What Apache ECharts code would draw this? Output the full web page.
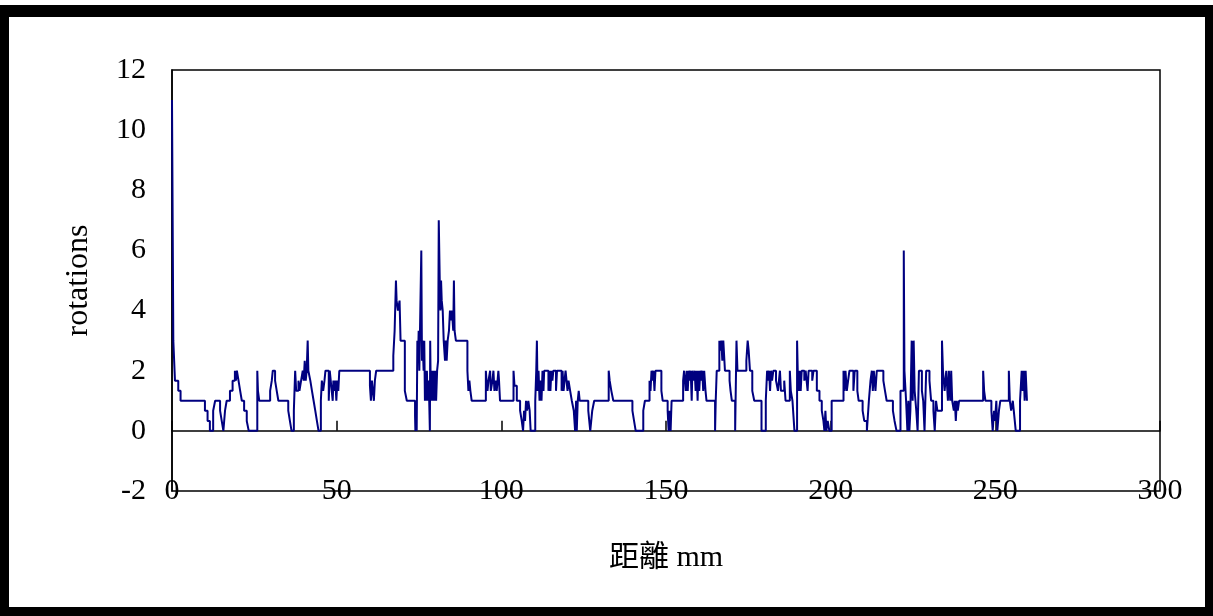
<!DOCTYPE html>
<html>
<head>
<meta charset="utf-8">
<title>rotations</title>
<script src="https://cdn.jsdelivr.net/npm/echarts@6.0.0/dist/echarts.min.js"></script>
<style>
  html, body { margin: 0; padding: 0; background: #fff; }
  #chart { width: 1213px; height: 616px; }
</style>
</head>
<body>
<div id="chart"></div>
<script>
// change points: distance (mm) -> rotations, held until the next point
const mm0_60 = [0,0.4,0.9,1.9,2.6,10.0,10.8,11.5,12.5,13.1,
  14.6,15.1,15.6,16.1,16.6,17.6,18.4,19.1,19.4,19.7,
  20.2,20.7,21.2,21.9,22.7,23.3,25.9,26.1,26.5,29.8,
  30.3,30.6,31.3,31.8,32.3,35.3,35.8,36.3,37.0,37.4,
  37.7,38.4,38.7,39.2,39.7,40.0,40.3,40.6,40.9,41.2,
  41.4,42.0,42.5,43.0,43.5,44.0,44.5,45.2,45.5,45.9,
  46.3,46.6,47.6,47.9,48.5,48.8,49.0,49.3,49.6,49.9,
  50.2,50.5,50.8]
const rot0_60 = [11,3,1.67,1.33,1,0.67,0.33,0,0.67,1,
  0.67,0.33,0,0.67,1,1.33,1.67,2,1.67,2,
  1.67,1.33,1,0.67,0.33,0,2,1.33,1,1.33,
  1.67,2,1.67,1.33,1,0.67,0.33,0,0.67,2,
  1.33,1.67,1.33,1.67,2,1.67,2.33,1.67,2,3,
  2,1.67,1.33,1,0.67,0.33,0,1,1.67,1.33,
  1.67,2,1,2,1.33,1,1.67,1.33,1.67,1,
  1.67,1.33,2]

const mm60_100 = [60.1,60.4,60.7,61.0,61.3,61.6,62.0,67.2,67.6,68.0,
  68.2,68.6,69.1,69.4,70.7,71.3,73.8,73.9,74.1,74.3,
  74.5,74.7,74.9,75.1,75.4,75.7,75.9,76.1,76.4,76.6,
  76.8,77.0,77.2,77.4,77.6,77.8,78.1,78.3,78.4,78.6,
  78.8,79.0,79.3,79.6,79.9,80.2,80.5,80.8,81.0,81.3,
  81.5,81.7,81.9,82.2,82.5,82.9,83.1,83.4,83.7,84.1,
  84.4,84.7,85.0,85.4,85.6,85.8,86.2,89.7,90.0,90.3,
  90.6,91.0,95.3,95.5,95.8,96.1,96.6,96.8,97.3,97.6,
  97.9,98.3,98.6,99.1,99.3,99.6]
const rot60_100 = [1.5,1,1.67,1.33,1,1.67,2,2.5,3.33,5,
  4.33,4,4.33,3,1.33,1,0.5,0,1,0,
  3,2.33,3.33,2,4,6,2.33,3,2,3,
  1,2,1,2,1,1.67,1,0,3,1,
  2,1,2,1,2,1,2,2.33,7,5,
  4,5,4.33,4,3,2.33,3,2.33,3,3.33,
  4,3.67,4,3.33,5,3.33,3,2,1.33,1.67,
  1.33,1,2,1.67,1.33,1.67,2,1.33,1.67,2,
  1.33,1.67,1.33,2,1.67,1]

const mm100_155 = [103.7,104.0,104.7,105.7,106.2,106.6,106.9,107.2,107.5,107.8,
  108.2,108.6,108.9,110.3,110.6,110.8,111.0,111.3,111.6,111.9,
  112.2,112.5,112.8,113.0,114.3,114.6,114.9,115.2,115.5,115.8,
  116.6,116.9,118.3,118.6,118.9,119.2,119.5,120.1,120.4,120.9,
  121.4,122.0,122.4,122.7,122.9,123.2,123.5,123.8,126.4,126.7,
  127.0,127.6,128.2,132.6,132.9,133.4,134.0,139.8,140.3,140.8,
  143.1,143.6,145.0,145.3,145.6,145.9,146.2,146.5,146.8,148.6,
  149.0,150.5,150.8,151.1,151.4,151.7]
const rot100_155 = [2,1.5,1,0.67,0.33,0,0.67,0.33,1,0.67,
  1,0.67,0,1,2,3,1.33,2,1,1.67,
  1,2,1.33,2,1.33,2,1.33,2,1.67,2,
  1.33,2,1.33,2,1.33,1.67,2,1.33,1.67,1.33,
  1,0.67,0,1,0,1,1.33,1,0.67,0.33,
  0,0.67,1,2,1.67,1.33,1,0.67,0.33,0,
  0.67,1,1.67,1.33,2,1.67,2,1.33,2,1.33,
  1,0.67,0,0.67,0,1]

const mm155_201 = [155.2,155.5,156.0,156.3,156.6,156.9,157.2,157.5,157.8,158.0,
  158.4,158.7,159.0,159.3,159.6,159.8,160.1,160.4,160.7,161.0,
  161.3,161.6,162.0,162.3,164.9,165.1,165.4,166.2,166.5,166.8,
  167.1,167.4,167.9,169.3,169.6,170.0,171.0,171.4,171.7,174.4,
  174.8,175.1,175.5,176.2,176.8,179.0,180.3,180.7,181.0,181.3,
  181.6,181.9,182.2,182.6,183.4,184.0,184.3,184.6,184.9,185.9,
  186.3,187.6,187.9,188.4,189.0,189.8,190.0,190.3,190.6,190.9,
  191.2,192.0,192.4,193.0,193.3,194.4,194.8,195.8,196.6,197.3,
  197.8,198.1,198.4,198.7,199.1,199.6,200.3]
const rot155_201 = [1.67,2,1.33,2,1.33,2,1.67,2,1,2,
  1.67,2,1.33,2,1,2,1.33,2,1.67,2,
  1.33,2,1.33,1,0,1,2,3,2.67,3,
  2.33,3,2,1.67,1.33,1,0,3,2,2.33,
  3,2.67,2,1.33,1,0,1,2,1.67,2,
  1.33,2,1.67,2,1.67,1.33,1.67,2,1.33,1.67,
  1,2,1.33,1,0,3,2,1.33,2,1.33,
  2,1.67,2,1.33,2,1.67,2,1.33,1,0.67,
  0.33,0,0.67,0,0.33,0,1]

const mm201_260 = [203.9,204.2,204.5,204.9,205.3,205.7,206.9,207.3,208.1,208.5,
  209.7,210.2,211.0,211.6,212.1,212.5,212.8,213.1,213.6,214.0,
  216.0,216.5,217.0,218.9,219.4,220.0,221.2,222.2,222.4,222.9,
  223.3,223.6,223.9,224.2,224.6,224.9,225.2,225.5,226.0,226.4,
  226.8,227.7,228.1,228.5,229.0,230.0,230.5,231.2,231.6,232.0,
  232.4,233.8,234.1,234.6,235.1,235.6,235.9,236.3,236.6,236.9,
  237.4,237.7,238.0,238.3,238.6,239.0,246.3,246.6,247.0,248.8,
  249.2,249.6,249.9,250.3,250.6,251.1,251.5,254.1,254.4,254.8,
  255.3,255.6,256.2,257.5,258.0,258.3,258.6,258.9,259.2,259.6]
const rot201_260 = [2,1.33,2,1.33,1.67,2,1.33,2,1.33,1,
  0.67,0.33,0,1,1.67,2,1.33,2,1.33,2,
  1.67,1.33,1,0.67,0.33,0,1.33,6,2,1,
  0,1,0,0.67,3,1,3,1.33,0.67,0,
  2,1.33,1,0,2,1.67,1,0.67,0,1,
  0.67,3,2,1.33,2,1,2,1,2,1,
  0.67,1,0.33,1,0.67,1,2,1.33,1,0.67,
  0,0.67,0.33,1,0,0.67,1,2,1,0.67,
  1,0.67,0,1,2,1.33,2,1,2,1]

const xTicks = {min: 0, max: 300, interval: 50}
const yTicks = {min: -2, max: 12, interval: 2}

const distances = [].concat(mm0_60, mm60_100, mm100_155, mm155_201, mm201_260)
const rotations = [].concat(rot0_60, rot60_100, rot100_155, rot155_201, rot201_260)
const data = distances.map((d, i) => [d, rotations[i]])

const serif = '"Liberation Serif", "Times New Roman", serif'
const black = '#000'

const chart = echarts.init(document.getElementById('chart'))
chart.setOption({
  animation: false,
  backgroundColor: '#fff',
  textStyle: {fontFamily: serif, color: black},
  // black picture frame
  graphic: [
    {type: 'rect', shape: {x: 0, y: 5, width: 1213, height: 12}, style: {fill: black}, silent: true},
    {type: 'rect', shape: {x: 0, y: 5, width: 9, height: 611}, style: {fill: black}, silent: true},
    {type: 'rect', shape: {x: 1205, y: 5, width: 8, height: 611}, style: {fill: black}, silent: true},
    {type: 'rect', shape: {x: 0, y: 607, width: 1213, height: 9}, style: {fill: black}, silent: true}
  ],
  grid: {
    left: 172, right: 53, top: 70, bottom: 125,
    outerBoundsMode: 'none',
    containLabel: false,
    show: true,
    borderColor: black,
    borderWidth: 1.5,
    backgroundColor: 'transparent'
  },
  xAxis: {
    type: 'value',
    ...xTicks,
    name: '距離 mm',
    nameLocation: 'middle',
    nameGap: 52,
    nameTextStyle: {fontSize: 30, color: black, fontFamily: '"Liberation Serif", "Noto Sans CJK TC", serif'},
    axisLine: {onZero: true, lineStyle: {color: black, width: 1.5}},
    axisTick: {show: true, inside: true, length: 10, lineStyle: {color: black, width: 1.5}},
    axisLabel: {margin: -15, fontSize: 30, color: black, fontFamily: serif},
    splitLine: {show: false}
  },
  yAxis: {
    type: 'value',
    ...yTicks,
    name: 'rotations',
    nameLocation: 'middle',
    nameGap: 77,
    nameRotate: 90,
    nameTextStyle: {fontSize: 32, color: black, fontFamily: serif},
    axisLine: {show: true, onZero: false, lineStyle: {color: black, width: 1.5}},
    axisTick: {show: false},
    axisLabel: {margin: 26, fontSize: 30, color: black, fontFamily: serif},
    splitLine: {show: false}
  },
  series: [{
    type: 'line',
    step: 'end',
    data,
    showSymbol: false,
    symbol: 'none',
    lineStyle: {color: '#000080', width: 2},
    itemStyle: {color: '#000080'}
  }]
})
</script>
</body>
</html>
